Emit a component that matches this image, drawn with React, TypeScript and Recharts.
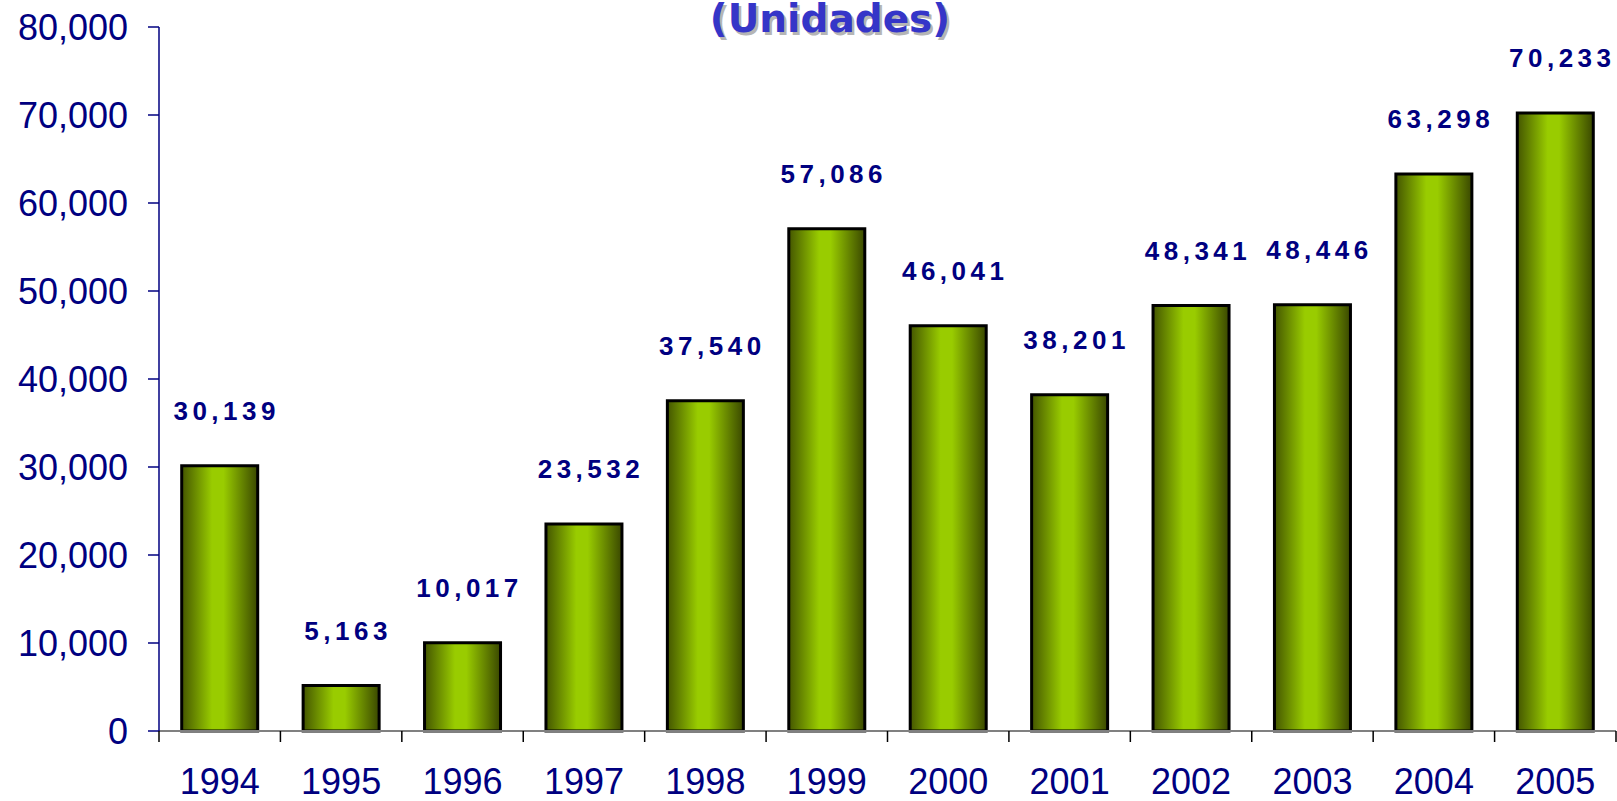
import { BarChart, Bar, XAxis, YAxis, LabelList } from 'recharts';

const years = ['1994', '1995', '1996', '1997', '1998', '1999', '2000', '2001', '2002', '2003', '2004', '2005'];
const units = [30139, 5163, 10017, 23532, 37540, 57086, 46041, 38201, 48341, 48446, 63298, 70233];
const yTicks = [0, 10000, 20000, 30000, 40000, 50000, 60000, 70000, 80000];

const data = years.map((year, i) => ({ year, value: units[i] }));

const W = 1617;
const H = 801;
const LEFT = 159;
const RIGHT = 1;
const NAVY = '#000080';
const CAT_W = (W - LEFT - RIGHT) / years.length;

const fmt = (v: number) => v.toLocaleString('en-US');

function YearTick(props: any) {
  const { x, y, payload, index } = props;
  return (
    <g>
      <line x1={x - CAT_W / 2} x2={x - CAT_W / 2} y1={y} y2={y + 11} stroke="#000" strokeWidth={1.5} />
      {index === years.length - 1 && (
        <line x1={x + CAT_W / 2} x2={x + CAT_W / 2} y1={y} y2={y + 11} stroke="#000" strokeWidth={1.5} />
      )}
      <text x={x} y={y + 63} textAnchor="middle" fill={NAVY} fontSize={36} fontFamily="Liberation Sans, Arial, sans-serif">
        {payload.value}
      </text>
    </g>
  );
}

function ValueLabel(props: any) {
  const { x, y, width, value } = props;
  return (
    <text
      x={x + width / 2 + 7}
      y={y - 46}
      textAnchor="middle"
      fill={NAVY}
      fontSize={26}
      fontWeight="bold"
      letterSpacing={4.5}
      fontFamily="Liberation Sans, Arial, sans-serif"
    >
      {fmt(value)}
    </text>
  );
}

export default function App() {
  return (
    <div style={{ position: 'absolute', left: 0, top: 0, width: W, height: H, background: '#fff' }}>
      <BarChart width={W} height={H} data={data} margin={{ top: 27, right: RIGHT, left: 0, bottom: 0 }} barCategoryGap="18.7%">
        <defs>
          <linearGradient id="barGrad" x1="0" y1="0" x2="1" y2="0">
            <stop offset="0%" stopColor="#445600" />
            <stop offset="40%" stopColor="#99cc00" />
            <stop offset="55%" stopColor="#99cc00" />
            <stop offset="100%" stopColor="#3a4800" />
          </linearGradient>
        </defs>
        <XAxis
          dataKey="year"
          height={70}
          axisLine={{ stroke: '#808080', strokeWidth: 2 }}
          tickLine={false}
          tickSize={0}
          tickMargin={0}
          interval={0}
          tick={<YearTick />}
        />
        <YAxis
          width={LEFT}
          domain={[0, 80000]}
          ticks={yTicks}
          interval={0}
          tickFormatter={fmt}
          axisLine={{ stroke: NAVY, strokeWidth: 1.5 }}
          tickLine={{ stroke: NAVY, strokeWidth: 1.5 }}
          tickSize={11}
          tickMargin={20}
          tick={{ fill: NAVY, fontSize: 36, fontFamily: 'Liberation Sans, Arial, sans-serif' }}
        />
        <Bar dataKey="value" fill="url(#barGrad)" stroke="#000" strokeWidth={3} isAnimationActive={false}>
          <LabelList dataKey="value" content={<ValueLabel />} />
        </Bar>
      </BarChart>
      <svg width={W} height={60} style={{ position: 'absolute', left: 0, top: 0, pointerEvents: 'none' }}>
        <text x={832.5} y={34.5} textAnchor="middle" fontSize={39} fontWeight="bold" fontFamily="DejaVu Sans, Verdana, sans-serif" fill="#b5b5b5">
          (Unidades)
        </text>
        <text x={830} y={32} textAnchor="middle" fontSize={39} fontWeight="bold" fontFamily="DejaVu Sans, Verdana, sans-serif" fill="#3535c8">
          (Unidades)
        </text>
      </svg>
    </div>
  );
}
